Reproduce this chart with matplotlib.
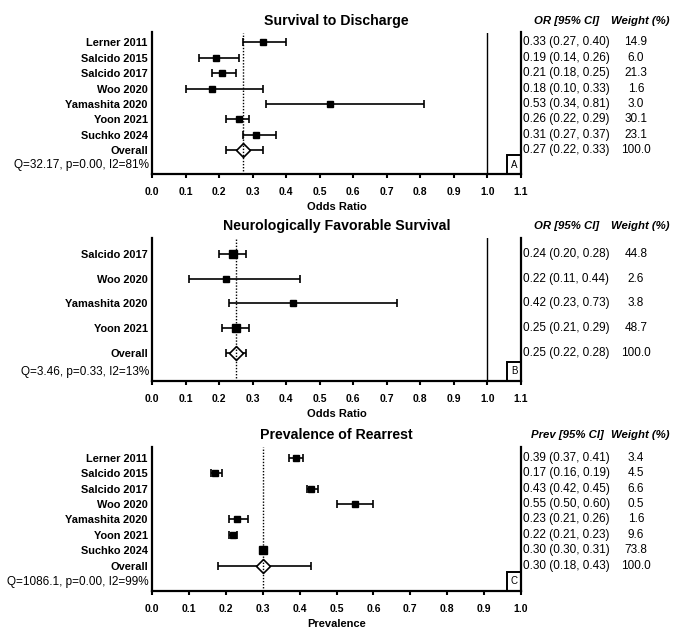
import matplotlib
matplotlib.use("Agg")
import matplotlib.pyplot as plt
from matplotlib.path import Path
from matplotlib.patches import Rectangle

plt.rcParams['font.family'] = ['Liberation Sans', 'DejaVu Sans']

# Panel A: survival to discharge
a_studies = ["Lerner 2011", "Salcido 2015", "Salcido 2017", "Woo 2020",
             "Yamashita 2020", "Yoon 2021", "Suchko 2024", "Overall"]
a_est = [0.33, 0.19, 0.21, 0.18, 0.53, 0.26, 0.31, 0.27]
a_lo = [0.27, 0.14, 0.18, 0.10, 0.34, 0.22, 0.27, 0.22]
a_hi = [0.40, 0.26, 0.25, 0.33, 0.81, 0.29, 0.37, 0.33]
a_w = [14.9, 6.0, 21.3, 1.6, 3.0, 30.1, 23.1, 100.0]
a_het = "Q=32.17, p=0.00, I2=81%"

# Panel B: neurologically favorable survival
b_studies = ["Salcido 2017", "Woo 2020", "Yamashita 2020", "Yoon 2021", "Overall"]
b_est = [0.24, 0.22, 0.42, 0.25, 0.25]
b_lo = [0.20, 0.11, 0.23, 0.21, 0.22]
b_hi = [0.28, 0.44, 0.73, 0.29, 0.28]
b_w = [44.8, 2.6, 3.8, 48.7, 100.0]
b_het = "Q=3.46, p=0.33, I2=13%"

# Panel C: prevalence of rearrest
c_studies = ["Lerner 2011", "Salcido 2015", "Salcido 2017", "Woo 2020",
             "Yamashita 2020", "Yoon 2021", "Suchko 2024", "Overall"]
c_est = [0.39, 0.17, 0.43, 0.55, 0.23, 0.22, 0.30, 0.30]
c_lo = [0.37, 0.16, 0.42, 0.50, 0.21, 0.21, 0.30, 0.18]
c_hi = [0.41, 0.19, 0.45, 0.60, 0.26, 0.23, 0.31, 0.43]
c_w = [3.4, 4.5, 6.6, 0.5, 1.6, 9.6, 73.8, 100.0]
c_het = "Q=1086.1, p=0.00, I2=99%"

W, H = 680, 642
fig = plt.figure(figsize=(W / 100, H / 100), dpi=100)

diamond = Path([(-1, 0), (0, 1), (1, 0), (0, -1), (-1, 0)],
               [Path.MOVETO, Path.LINETO, Path.LINETO, Path.LINETO, Path.CLOSEPOLY])


def panel(rect, title, studies, est, lo, hi, w, het, xmax, xlabel, col_head,
          letter, ylim, null_line):
    ax = fig.add_axes(rect)
    n = len(studies)
    rows = list(range(n))
    for i in rows:
        ax.errorbar(est[i], i, xerr=[[est[i] - lo[i]], [hi[i] - est[i]]], fmt='none',
                    ecolor='black', elinewidth=1.2, capsize=3, capthick=1.2, zorder=2)
        if studies[i] == "Overall":
            ax.plot(est[i], i, marker=diamond, ms=10, mfc='white', mec='black',
                    mew=1.2, zorder=3)
        else:
            ax.plot(est[i], i, marker='s', ms=4.4 + 0.015 * w[i], color='black', zorder=3)

    # pooled estimate reference line (drawn over the diamond, as in the original)
    ax.axvline(est[-1], color='black', ls=(0, (1, 1.2)), lw=1.0, zorder=4)
    if null_line:
        ax.axvline(1.0, color='black', lw=1.0, zorder=1)

    ax.set_xlim(0, xmax)
    ax.set_ylim(*ylim)
    ticks = [round(t * 0.1, 1) for t in range(int(round(xmax * 10)) + 1)]
    ax.set_xticks(ticks)
    ax.set_xticklabels([f"{t:.1f}" for t in ticks], fontweight='bold', fontsize=7.5)
    ax.set_yticks(rows)
    ax.set_yticklabels(studies, fontweight='bold', fontsize=7.9)
    ax.tick_params(axis='y', length=0, pad=3)
    ax.tick_params(axis='x', length=3, width=1.5, pad=6)
    ax.spines['top'].set_visible(False)
    for s in ['left', 'bottom', 'right']:
        ax.spines[s].set_linewidth(1.6)
    ax.set_xlabel(xlabel, fontweight='bold', fontsize=8, labelpad=4)

    ax.annotate(title, xy=(0.5, 1), xycoords='axes fraction', xytext=(0, 12),
                textcoords='offset pixels', ha='center', va='center',
                fontweight='bold', fontsize=10.2)
    ax.annotate(het, xy=(0, 0), xycoords='axes fraction', xytext=(-3, 9),
                textcoords='offset pixels', ha='right', va='center', fontsize=8.5)

    # right-hand columns
    axw = rect[2] * W
    xr = (rect[0] + rect[2]) * W
    ax.annotate(col_head, xy=(1, 1), xycoords='axes fraction',
                xytext=(567 - xr, 12), textcoords='offset pixels',
                ha='center', va='center', fontweight='bold', fontstyle='italic', fontsize=8.2)
    ax.annotate("Weight (%)", xy=(1, 1), xycoords='axes fraction',
                xytext=(640 - xr, 12), textcoords='offset pixels',
                ha='center', va='center', fontweight='bold', fontstyle='italic', fontsize=8.2)
    tr = ax.get_yaxis_transform()
    for i in rows:
        ax.text(1 + 2 / axw, i, f"{est[i]:.2f} ({lo[i]:.2f}, {hi[i]:.2f})",
                transform=tr, ha='left', va='center', fontsize=8.5)
        ax.text(1 + (636 - xr) / axw, i, f"{w[i]:.1f}",
                transform=tr, ha='center', va='center', fontsize=8.5)

    # panel letter box
    bw, bh = 14 / axw, 19 / (rect[3] * H)
    ax.add_patch(Rectangle((1 - bw, 0), bw, bh, transform=ax.transAxes,
                           fill=False, lw=1.4, ec='black', clip_on=False, zorder=5))
    ax.text(1 - bw / 2, bh / 2, letter, transform=ax.transAxes, ha='center',
            va='center', fontsize=7)
    return ax


left, right = 152 / W, 521 / W
panel([left, 1 - 174.3 / H, right - left, (174.3 - 32.5) / H], "Survival to Discharge",
      a_studies, a_est, a_lo, a_hi, a_w, a_het, 1.1, "Odds Ratio", "OR [95% CI]", "A",
      (8.58, -0.65), True)
panel([left, 1 - 381 / H, right - left, (381 - 238) / H], "Neurologically Favorable Survival",
      b_studies, b_est, b_lo, b_hi, b_w, b_het, 1.1, "Odds Ratio", "OR [95% CI]", "B",
      (5.14, -0.65), True)
panel([left, 1 - 591 / H, right - left, (591 - 447) / H], "Prevalence of Rearrest",
      c_studies, c_est, c_lo, c_hi, c_w, c_het, 1.0, "Prevalence", "Prev [95% CI]", "C",
      (8.64, -0.7), False)

fig.savefig("out.png", dpi=100)
